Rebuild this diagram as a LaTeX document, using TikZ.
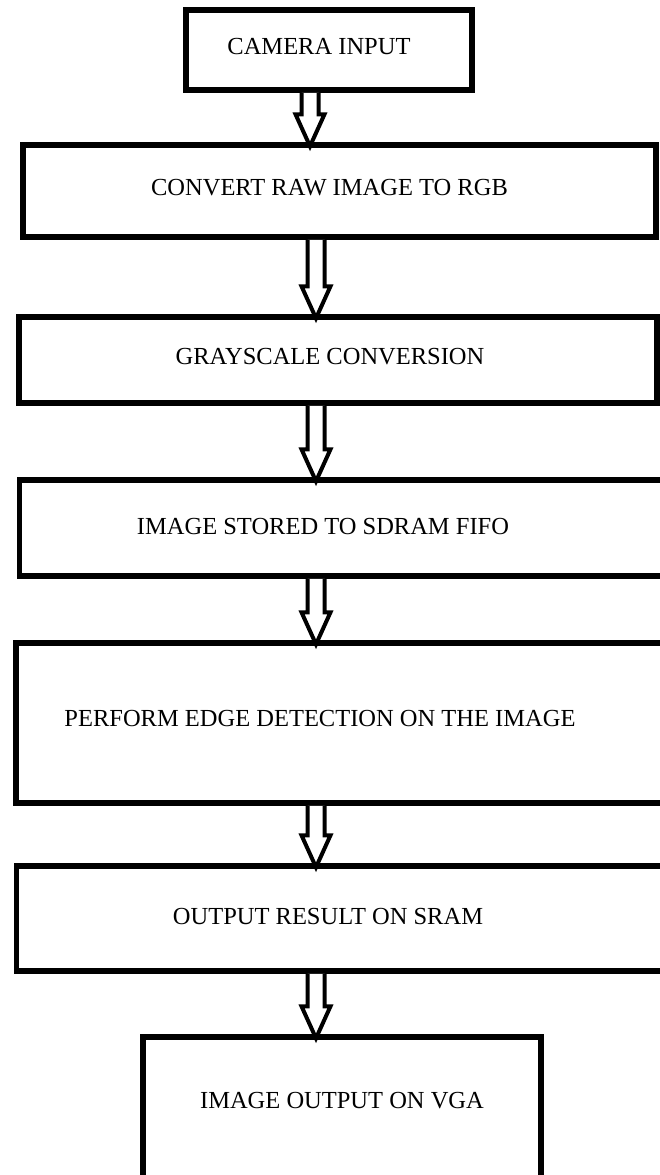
\documentclass[tikz,border=0pt]{standalone}
\usepackage{fontspec}
\setmainfont{Liberation Serif}
\usetikzlibrary{calc}

\tikzset{
  stage/.style={draw, line width=5.5pt, inner sep=0pt},
  tag/.style={inner sep=0pt, font=\fontsize{24.5}{24.5}\selectfont},
  hollow/.style={draw, line width=4pt, fill=white, line join=miter},
}

% hollow block arrow from box #1 to box #2 along the vertical through #3
\newcommand{\blockarrow}[3]{%
  \coordinate (tail) at (#1.south -| #3);
  \coordinate (tip) at ($(#2.north -| #3)+(0,4)$);
  \draw[hollow] ($(tail)+(-8.5,0)$) -- ($(tip)+(-8.5,-32)$)
    -- ($(tip)+(-14.5,-32)$) -- (tip) -- ($(tip)+(14.5,-32)$)
    -- ($(tip)+(8.5,-32)$) -- ($(tail)+(8.5,0)$);
}

\begin{document}
\begin{tikzpicture}[x=1pt, y=-1pt]
  \useasboundingbox[fill=white] (0,0) rectangle (660,1175);

  \node[stage, minimum width=286, minimum height=80,
    label={[tag, xshift=-10, yshift=3]center:CAMERA INPUT}] (cam) at (329,50) {};
  \node[stage, minimum width=633, minimum height=92,
    label={[tag, xshift=-10, yshift=3]center:CONVERT RAW IMAGE TO RGB}] (rgb) at (339.5,191) {};
  \node[stage, minimum width=638, minimum height=86,
    label={[tag, xshift=-8, yshift=3]center:GRAYSCALE CONVERSION}] (gray) at (338,360) {};
  \node[stage, minimum width=647, minimum height=96,
    label={[tag, xshift=-20, yshift=1]center:IMAGE STORED TO SDRAM FIFO}] (sdram) at (343,528) {};
  \node[stage, minimum width=652, minimum height=160,
    label={[tag, xshift=-22, yshift=5]center:PERFORM EDGE DETECTION ON THE IMAGE}] (edge) at (342,723) {};
  \node[stage, minimum width=651, minimum height=105,
    label={[tag, xshift=-14, yshift=2]center:OUTPUT RESULT ON SRAM}] (sram) at (342,918.5) {};
  \node[stage, minimum width=398, minimum height=143,
    label={[tag, xshift=0, yshift=8]center:IMAGE OUTPUT ON VGA}] (vga) at (342,1108.5) {};

  \coordinate (axisA) at (310,0);
  \coordinate (axisB) at (316,0);

  \blockarrow{cam}{rgb}{axisA}
  \blockarrow{rgb}{gray}{axisB}
  \blockarrow{gray}{sdram}{axisB}
  \blockarrow{sdram}{edge}{axisB}
  \blockarrow{edge}{sram}{axisB}
  \blockarrow{sram}{vga}{axisB}
\end{tikzpicture}
\end{document}
